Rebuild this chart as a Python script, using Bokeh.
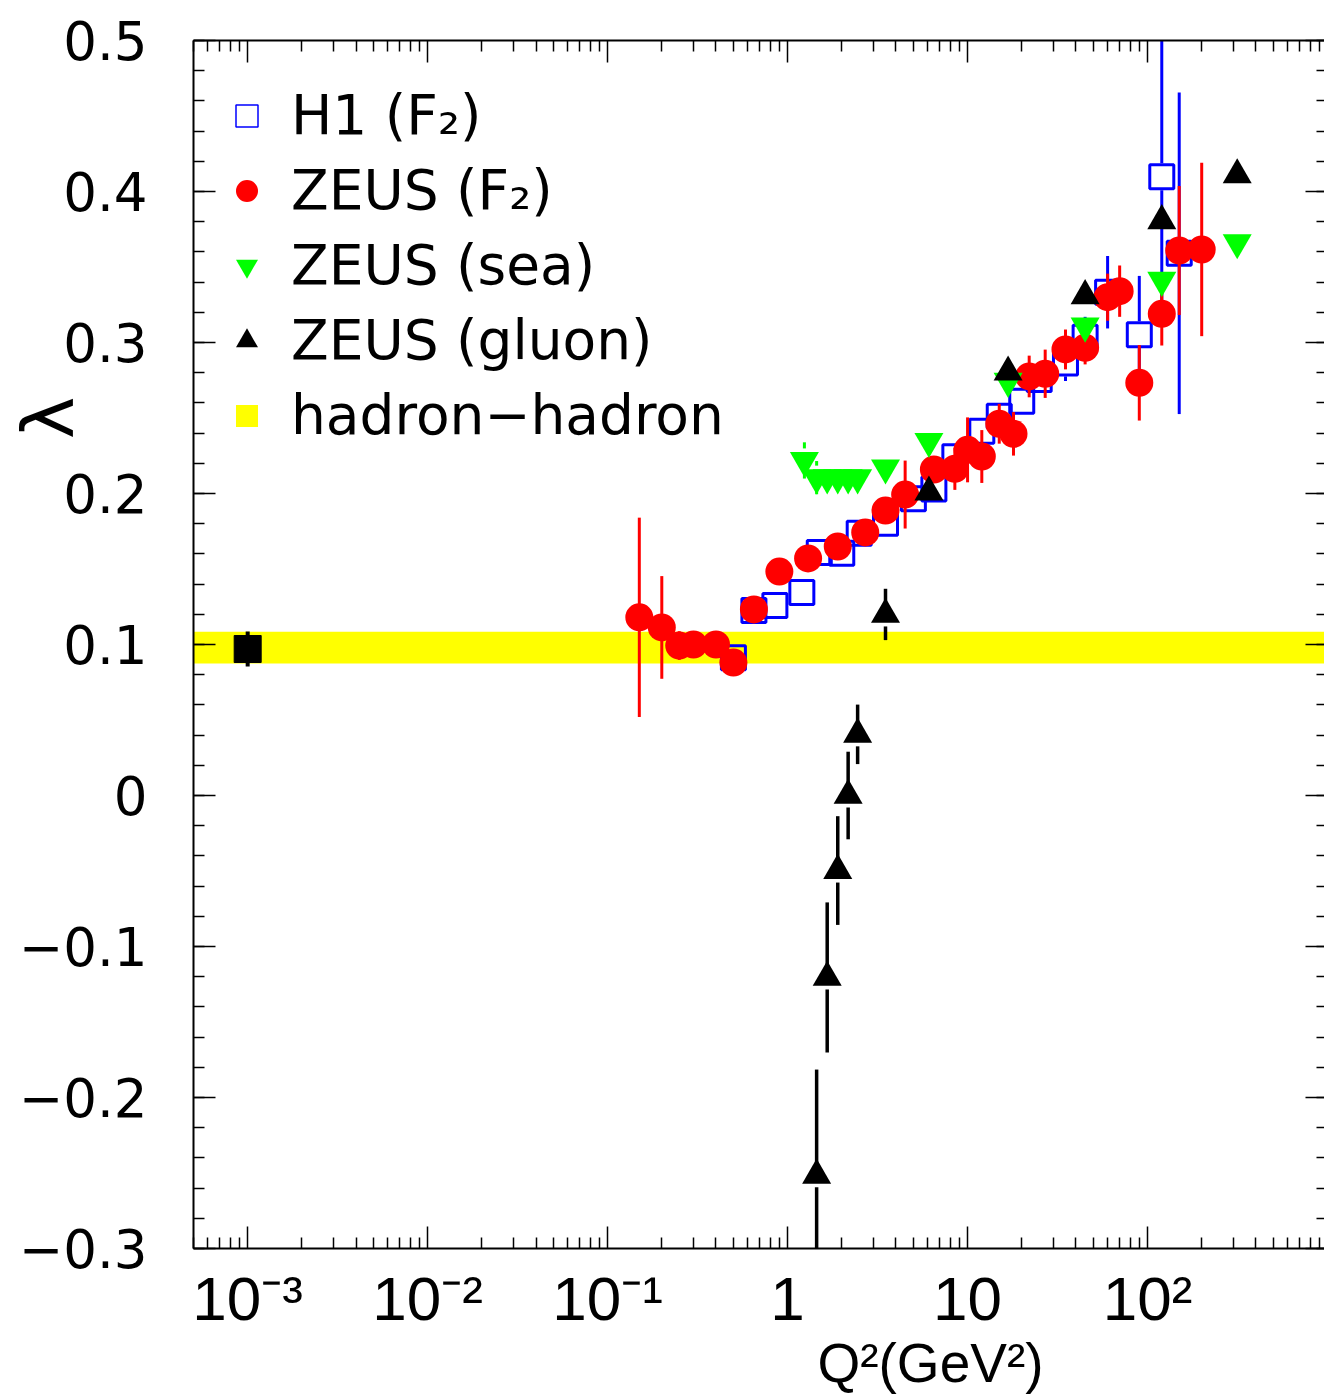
import numpy as np
from bokeh.plotting import figure
from bokeh.models import (FixedTicker, CustomJSTickFormatter, LogAxis, LinearAxis,
                          Legend, LegendItem, Label, BoxAnnotation, ColumnDataSource, Range1d)
from bokeh.embed import file_html
from bokeh.resources import INLINE

# ---------------- data ----------------
# H1 F2 (open blue squares)
h1_q2 = [0.5, 0.65, 0.85, 1.2, 1.5, 2.0, 2.5, 3.5, 5.0, 6.5, 8.5, 12, 15, 20, 25, 35, 45, 60, 90, 120, 150]
h1_lam = [0.0912, 0.1225, 0.1258, 0.1344, 0.161, 0.1605, 0.1737, 0.1803, 0.1965, 0.2029, 0.2243,
          0.2413, 0.2512, 0.2611, 0.2755, 0.2865, 0.3035, 0.3333, 0.3051, 0.4097, 0.3591]
h1_err = [0.006, 0.006, 0.006, 0.006, 0.006, 0.006, 0.006, 0.006, 0.006, 0.006, 0.006,
          0.006, 0.006, 0.008, 0.008, 0.012, 0.0135, 0.024, 0.039, 0.09, 0.1065]

# ZEUS F2 (red circles)
zf2_q2 = [0.15, 0.2, 0.25, 0.3, 0.4, 0.5, 0.65, 0.9, 1.3, 1.9, 2.7, 3.5, 4.5, 6.5, 8.5, 10, 12, 15,
          18, 22, 27, 35, 45, 60, 70, 90, 120, 150, 200]
zf2_lam = [0.118, 0.1113, 0.0993, 0.100, 0.100, 0.088, 0.1232, 0.1483, 0.157, 0.1649, 0.1742,
           0.1887, 0.1993, 0.2159, 0.2164, 0.2289, 0.2245, 0.2462, 0.2395, 0.2775, 0.2793,
           0.2954, 0.2965, 0.330, 0.334, 0.2733, 0.319, 0.3609, 0.3616]
zf2_err = [0.066, 0.034, 0.0095, 0.006, 0.006, 0.006, 0.006, 0.006, 0.006, 0.006, 0.006,
           0.006, 0.0225, 0.008, 0.014, 0.0215, 0.0175, 0.0132, 0.0144, 0.0138, 0.016,
           0.0132, 0.011, 0.0156, 0.017, 0.025, 0.021, 0.0427, 0.0574]

# ZEUS sea (green down triangles)
sea_q2 = [1.24, 1.45, 1.66, 1.9, 2.17, 2.45, 3.5, 6.1, 16.8, 45, 120, 315]
sea_lam = [0.2219, 0.2105, 0.2105, 0.2105, 0.2105, 0.2105, 0.217, 0.2346, 0.2744, 0.311, 0.3413, 0.3662]
sea_err = [0.012, 0.011, 0.006, 0.006, 0.006, 0.006, 0.006, 0.006, 0.005, 0.005, 0.005, 0.005]

# ZEUS gluon (black up triangles)
glu_q2 = [1.45, 1.66, 1.9, 2.17, 2.45, 3.5, 6.1, 16.8, 45, 120, 315]
glu_lam = [-0.2515, -0.1205, -0.0497, 0.0, 0.0405, 0.1199, 0.2009, 0.2803, 0.3309, 0.3806, 0.411]
glu_err = [0.07, 0.0497, 0.036, 0.029, 0.0197, 0.017, 0.006, 0.004, 0.004, 0.004, 0.004]

# hadron-hadron
hh_q2 = [0.001]
hh_lam = [0.097]
hh_err = [0.0116]
hh_band_low = 0.0875
hh_band_high = 0.1085

# ticks
xtick_vals = [1e-3, 1e-2, 1e-1, 1.0, 10.0, 100.0]
xtick_labels = ["10\u207b\u00b3", "10\u207b\u00b2", "10\u207b\u00b9", "1", "10", "10\u00b2"]
ytick_vals = [-0.3, -0.2, -0.1, 0.0, 0.1, 0.2, 0.3, 0.4, 0.5]
ytick_labels = ["\u22120.3", "\u22120.2", "\u22120.1", "0", "0.1", "0.2", "0.3", "0.4", "0.5"]

legend_labels = ["H1 (F\u2082)", "ZEUS (F\u2082)", "ZEUS (sea)", "ZEUS (gluon)", "hadron\u2212hadron"]
x_title = "Q\u00b2(GeV\u00b2)"
y_title = "\u03bb"

# ---------------- geometry ----------------
W, H = 1324, 1399                      # canvas
BOX_L, BOX_R, BOX_T, BOX_B = 193, 1327, 40, 1248   # plot box edges in canvas pixels
X_START, X_END = 5e-4, 1000.0
Y_START, Y_END = -0.3, 0.5

dec_per_px = (np.log10(X_END) - np.log10(X_START)) / (BOX_R - BOX_L)
xr0 = 10 ** (np.log10(X_START) - BOX_L * dec_per_px)
xr1 = 10 ** (np.log10(X_END) + (W - BOX_R) * dec_per_px)
val_per_px = (Y_END - Y_START) / (BOX_B - BOX_T)
yr1 = Y_END + BOX_T * val_per_px
yr0 = Y_START - (H - BOX_B) * val_per_px

p = figure(x_axis_type="log", x_range=Range1d(xr0, xr1), y_range=Range1d(yr0, yr1),
           width=W, height=H, min_border=0,
           x_axis_location=None, y_axis_location=None,
           output_backend="svg", toolbar_location=None,
           background_fill_color="white", border_fill_color="white")
p.grid.visible = False
p.outline_line_color = None

x_minor = [k * 10.0 ** n for n in range(-4, 3) for k in range(2, 10) if X_START <= k * 10.0 ** n <= X_END]
y_minor = [round(Y_START + 0.02 * i, 2) for i in range(41)]

xfmt = CustomJSTickFormatter(args=dict(vals=xtick_vals, labs=xtick_labels), code="""
for (let i = 0; i < vals.length; i++) {
  if (Math.abs(Math.log10(tick) - Math.log10(vals[i])) < 1e-6) return labs[i];
}
return "";
""")
yfmt = CustomJSTickFormatter(args=dict(vals=ytick_vals, labs=ytick_labels), code="""
for (let i = 0; i < vals.length; i++) {
  if (Math.abs(tick - vals[i]) < 1e-9) return labs[i];
}
return "";
""")

ax_b = LogAxis(fixed_location=Y_START, bounds=(X_START, X_END),
               ticker=FixedTicker(ticks=xtick_vals, minor_ticks=x_minor), formatter=xfmt)
ax_t = LogAxis(fixed_location=Y_END, bounds=(X_START, X_END),
               ticker=FixedTicker(ticks=xtick_vals, minor_ticks=x_minor),
               major_label_text_font_size="0px", major_label_standoff=0)
ax_l = LinearAxis(fixed_location=X_START, bounds=(Y_START, Y_END),
                  ticker=FixedTicker(ticks=ytick_vals, minor_ticks=y_minor), formatter=yfmt)
ax_r = LinearAxis(fixed_location=X_END, bounds=(Y_START, Y_END),
                  ticker=FixedTicker(ticks=ytick_vals, minor_ticks=y_minor),
                  major_label_text_font_size="0px", major_label_standoff=0)
ax_t.major_label_overrides = {v: "" for v in xtick_vals}
ax_r.major_label_overrides = {v: "" for v in ytick_vals}
p.add_layout(ax_b, "below")
p.add_layout(ax_t, "above")
p.add_layout(ax_l, "left")
p.add_layout(ax_r, "right")

for ax in [ax_b, ax_t, ax_l, ax_r]:
    ax.major_tick_in = 22
    ax.major_tick_out = 0
    ax.minor_tick_in = 11
    ax.minor_tick_out = 0
    ax.major_tick_line_width = 1.5
    ax.minor_tick_line_width = 1.5
    ax.major_tick_line_color = "black"
    ax.minor_tick_line_color = "black"
    ax.axis_line_width = 2
    ax.axis_line_color = "black"

ax_b.major_label_text_font = "Liberation Sans"
ax_b.major_label_text_font_size = "62px"
ax_b.major_label_text_color = "black"
ax_b.major_label_standoff = 15
ax_l.major_label_text_font = "DejaVu Sans"
ax_l.major_label_text_font_size = "53px"
ax_l.major_label_text_color = "black"
ax_l.major_label_standoff = 46

# ---------------- band ----------------
band = BoxAnnotation(left=X_START, right=X_END, bottom=hh_band_low, top=hh_band_high,
                     fill_color="#ffff00", fill_alpha=1.0, line_alpha=0, level="underlay")
p.add_layout(band)


def err_segments(q2, lam, err, half_px):
    gap = half_px * val_per_px
    x0, y0, x1, y1 = [], [], [], []
    for q, l, e in zip(q2, lam, err):
        if e > gap:
            x0 += [q, q]
            x1 += [q, q]
            y0 += [l + gap, l - gap]
            y1 += [min(l + e, Y_END), max(l - e, Y_START)]
    return ColumnDataSource(dict(x0=x0, y0=y0, x1=x1, y1=y1))


# hadron-hadron point
p.segment("x0", "y0", "x1", "y1", source=err_segments(hh_q2, hh_lam, hh_err, 13), line_color="black", line_width=4)
p.scatter(hh_q2, hh_lam, marker="square", size=27, fill_color="black", line_color="black", line_width=1)

# H1
p.segment("x0", "y0", "x1", "y1", source=err_segments(h1_q2, h1_lam, h1_err, 13.5), line_color="#0000ff", line_width=3)
p.scatter(h1_q2, h1_lam, marker="square", size=24, fill_color=None, line_color="#0000ff", line_width=3)

# ZEUS F2
p.segment("x0", "y0", "x1", "y1", source=err_segments(zf2_q2, zf2_lam, zf2_err, 13), line_color="#ff0000", line_width=3)
p.scatter(zf2_q2, zf2_lam, marker="circle", size=28, fill_color="#ff0000", line_color="#ff0000", line_width=0)

# ZEUS sea
p.segment("x0", "y0", "x1", "y1", source=err_segments(sea_q2, sea_lam, sea_err, 12), line_color="#00ff00", line_width=3)
p.scatter(sea_q2, sea_lam, marker="inverted_triangle", size=29, fill_color="#00ff00", line_color="#00ff00", line_width=0)

# ZEUS gluon
p.segment("x0", "y0", "x1", "y1", source=err_segments(glu_q2, glu_lam, glu_err, 12), line_color="black", line_width=3.5)
p.scatter(glu_q2, glu_lam, marker="triangle", size=29, fill_color="black", line_color="black", line_width=0)

# ---------------- legend ----------------
nan = [float("nan")]
lg_h1 = p.scatter(nan, nan, marker="square", fill_color=None, line_color="#0000ff", line_width=1.5)
lg_zf2 = p.scatter(nan, nan, marker="circle", fill_color="#ff0000", line_color="#ff0000", line_width=0)
lg_sea = p.scatter(nan, nan, marker="inverted_triangle", fill_color="#00ff00", line_color="#00ff00", line_width=0)
lg_glu = p.scatter(nan, nan, marker="triangle", fill_color="black", line_color="black", line_width=0)
lg_hh = p.scatter(nan, nan, marker="square", fill_color="#ffff00", line_color="#ffff00", line_width=0)

legend = Legend(items=[LegendItem(label=lab, renderers=[r]) for lab, r in
                       zip(legend_labels, [lg_h1, lg_zf2, lg_sea, lg_glu, lg_hh])],
                location=(219, 952), orientation="vertical",
                glyph_width=55, glyph_height=55, label_height=60, label_standoff=17,
                spacing=11, padding=0, margin=0,
                label_text_font="DejaVu Sans", label_text_font_size="55px", label_text_color="black",
                background_fill_alpha=0, border_line_alpha=0)
p.add_layout(legend, "center")

# ---------------- axis titles ----------------
p.add_layout(Label(x=47, x_units="screen", y=0.25, y_units="data", text=y_title, angle=np.pi / 2,
                   text_align="center", text_baseline="middle", text_font="DejaVu Sans",
                   text_font_size="72px", text_color="black"))
p.add_layout(Label(x=930, x_units="screen", y=37, y_units="screen", text=x_title,
                   text_align="center", text_baseline="middle", text_font="Liberation Sans",
                   text_font_size="55px", text_color="black"))

open("out.html", "w").write(file_html(p, INLINE))
